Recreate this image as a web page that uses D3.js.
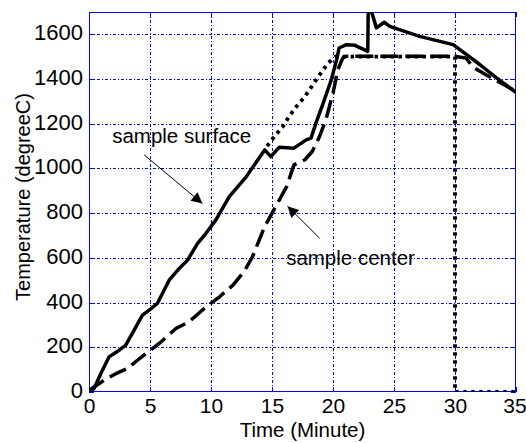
<!DOCTYPE html>
<html>
<head>
<meta charset="utf-8">
<script src="https://cdn.jsdelivr.net/npm/d3@7"></script>
<style>
  body { margin: 0; background: #fff; }
  svg text { font-family: "Liberation Sans", Arial, sans-serif; fill: #000; }
  .tick text { font-family: "Liberation Sans Narrow", "Arial Narrow", "Liberation Sans", sans-serif; }
</style>
</head>
<body>
<svg id="chart" width="526" height="443"></svg>
<script>
// Temperature histories, [minute, degreeC]
const surface = [
  [0, 0], [0.41, 15], [0.96, 82], [1.64, 157], [2.47, 187], [3.0, 209], [3.7, 277],
  [4.38, 344], [4.93, 366], [5.6, 396], [6.57, 500], [7.4, 553], [8.08, 590],
  [8.9, 665], [9.59, 710], [10.4, 770], [11.5, 874], [12.9, 964], [14.4, 1083],
  [14.9, 1053], [15.6, 1095], [16.8, 1091], [17.8, 1128], [18.2, 1136], [18.6, 1203],
  [19.2, 1293], [19.86, 1397], [20.3, 1487], [20.5, 1539], [21.1, 1554], [21.8, 1551],
  [22.85, 1524], [22.9, 1780], [23.05, 1720], [23.56, 1629], [24.2, 1654], [24.65, 1636],
  [27.1, 1591], [29.85, 1554], [30.95, 1509], [32.05, 1464], [33.4, 1405], [35, 1340]
];
const center = [
  [0, 5], [0.14, 12], [1.23, 52], [2.2, 82], [3.15, 105], [3.97, 142], [4.66, 172],
  [5.75, 217], [7.12, 284], [8.2, 314], [9.6, 381], [10.7, 426], [11.8, 478],
  [12.7, 538], [13.4, 605], [14.4, 740], [15.3, 829], [16.2, 919], [16.8, 1016],
  [17.7, 1039], [18.3, 1076], [18.9, 1143], [19.45, 1225], [20.0, 1337], [20.4, 1442],
  [20.8, 1494], [21.1, 1502], [29.9, 1502], [30.9, 1494], [31.5, 1452], [32.5, 1420],
  [33.5, 1390], [35, 1345]
];
const furnace = [
  [14.6, 1100], [15.2, 1143], [15.9, 1188], [16.4, 1233], [17.0, 1277], [17.7, 1322],
  [18.35, 1375], [18.9, 1419], [19.6, 1472], [20.2, 1500], [30, 1500], [30, 0], [35, 0]
];

const xTicks = [0, 5, 10, 15, 20, 25, 30, 35];
const yTicks = [0, 200, 400, 600, 800, 1000, 1200, 1400, 1600];

// annotations: text anchor and arrow [from, to] in data units
const notes = [
  { label: 'sample surface', at: [1.9, 1115], from: [4.52, 1061], to: [9.3, 843] },
  { label: 'sample center', at: [16.16, 568], from: [18.9, 688], to: [16.27, 831] }
];

const margin = { top: 12, right: 10, bottom: 51, left: 89 };
const svg = d3.select('#chart');
const width = +svg.attr('width') - margin.left - margin.right;
const height = +svg.attr('height') - margin.top - margin.bottom;

const x = d3.scaleLinear().domain([0, 35]).range([0, width]);
const y = d3.scaleLinear().domain([0, 1700]).range([height, 0]);
const px = v => Math.round(v) + 0.5;

const defs = svg.append('defs');
defs.append('clipPath').attr('id', 'plot-clip')
  .append('rect').attr('width', width).attr('height', height);
defs.append('marker')
  .attr('id', 'arrow')
  .attr('viewBox', '0 0 10 10')
  .attr('refX', 10).attr('refY', 5)
  .attr('markerWidth', 13).attr('markerHeight', 11)
  .attr('markerUnits', 'userSpaceOnUse')
  .attr('orient', 'auto')
  .append('path').attr('d', 'M0,0 L10,5 L0,10 Z').attr('fill', '#000');

const g = svg.append('g').attr('transform', `translate(${margin.left},${margin.top})`);

// grid
const grid = g.append('g').attr('shape-rendering', 'crispEdges')
  .attr('stroke', '#0000ff').attr('stroke-width', 1).attr('stroke-dasharray', '3,2,1,2');
grid.selectAll('.gx')
  .data(xTicks.slice(1, -1))
  .join('line').attr('class', 'gx')
  .attr('x1', d => px(x(d))).attr('x2', d => px(x(d)))
  .attr('y1', 0).attr('y2', height);
grid.selectAll('.gy')
  .data(yTicks.slice(1))
  .join('line').attr('class', 'gy')
  .attr('x1', 0).attr('x2', width)
  .attr('y1', d => px(y(d))).attr('y2', d => px(y(d)));

// axes (labels only; ticks drawn as small inward marks)
const fmt = d3.format('d');
const xAxis = g.append('g').attr('transform', `translate(0,${height})`)
  .call(d3.axisBottom(x).tickValues(xTicks).tickFormat(fmt).tickSize(0).tickPadding(6));
const yAxis = g.append('g')
  .call(d3.axisLeft(y).tickValues(yTicks).tickFormat(fmt).tickSize(0).tickPadding(6));
g.selectAll('.domain').remove();
xAxis.selectAll('text').attr('font-size', 21);
xAxis.selectAll('text').filter(d => d === 35).attr('dx', -1.5);
yAxis.selectAll('text').attr('font-size', 22).attr('dy', '0.25em');

const marks = g.append('g').attr('stroke', '#0000ff').attr('shape-rendering', 'crispEdges');
yTicks.forEach(v => {
  marks.append('line').attr('x1', 0).attr('x2', 5).attr('y1', px(y(v))).attr('y2', px(y(v)));
  marks.append('line').attr('x1', width - 5).attr('x2', width).attr('y1', px(y(v))).attr('y2', px(y(v)));
});
xTicks.forEach(v => {
  marks.append('line').attr('x1', px(x(v))).attr('x2', px(x(v))).attr('y1', height - 5).attr('y2', height);
  marks.append('line').attr('x1', px(x(v))).attr('x2', px(x(v))).attr('y1', 0).attr('y2', 5);
});

// frame
g.append('rect').attr('x', 0.5).attr('y', 0.5).attr('width', width - 1).attr('height', height - 1)
  .attr('fill', 'none').attr('stroke', '#0000ff').attr('stroke-width', 1)
  .attr('shape-rendering', 'crispEdges');

// series
const line = d3.line().x(d => x(d[0])).y(d => y(d[1]));
const plot = g.append('g').attr('clip-path', 'url(#plot-clip)');

plot.append('path').datum(furnace)
  .attr('d', line).attr('fill', 'none').attr('stroke', '#000')
  .attr('stroke-width', 3.8).attr('stroke-dasharray', '3.5,4.5');
plot.append('path').datum(center)
  .attr('d', line).attr('fill', 'none').attr('stroke', '#000')
  .attr('stroke-width', 3.5).attr('stroke-dasharray', '18,7').attr('stroke-linejoin', 'round');
plot.append('path').datum(surface)
  .attr('d', line).attr('fill', 'none').attr('stroke', '#000')
  .attr('stroke-width', 3.5).attr('stroke-linejoin', 'round');

// annotations
notes.forEach(n => {
  g.append('text').attr('x', x(n.at[0])).attr('y', y(n.at[1]))
    .attr('font-size', 20.5).text(n.label);
  g.append('line')
    .attr('x1', x(n.from[0])).attr('y1', y(n.from[1]))
    .attr('x2', x(n.to[0])).attr('y2', y(n.to[1]))
    .attr('stroke', '#000').attr('stroke-width', 1)
    .attr('marker-end', 'url(#arrow)');
});

// axis titles
svg.append('text')
  .attr('x', margin.left + width / 2).attr('y', 437)
  .attr('text-anchor', 'middle').attr('font-size', 20.5)
  .text('Time (Minute)');
svg.append('text')
  .attr('transform', `translate(30,${margin.top + height / 2 - 5}) rotate(-90)`)
  .attr('text-anchor', 'middle').attr('font-size', 20)
  .text('Temperature (degreeC)');
</script>
</body>
</html>
